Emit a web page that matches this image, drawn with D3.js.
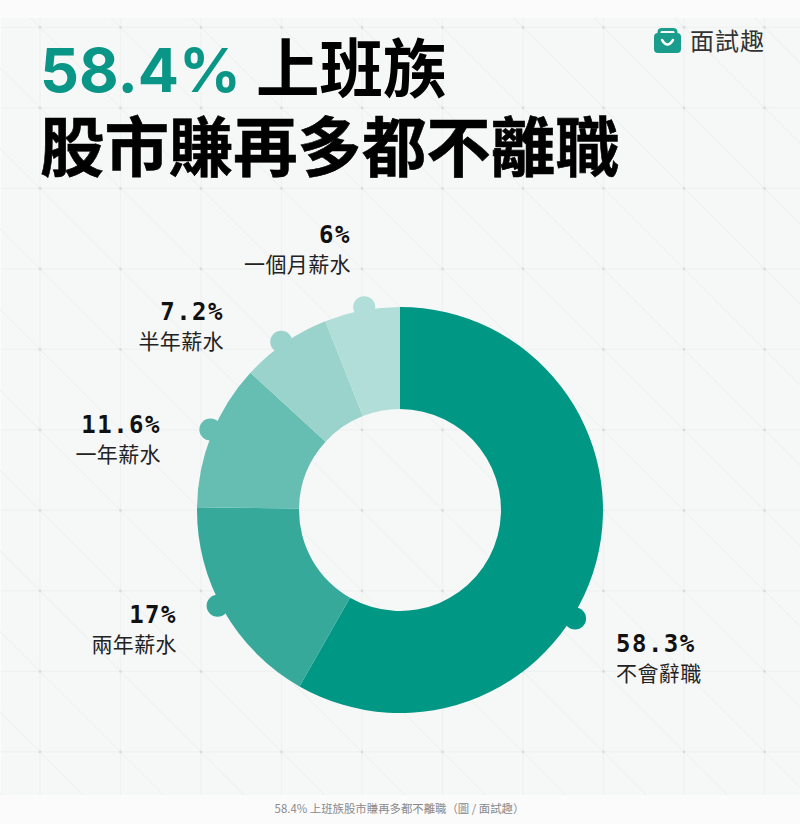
<!DOCTYPE html>
<html><head><meta charset="utf-8">
<script src="https://cdn.jsdelivr.net/npm/d3@7"></script>
<style>html,body{margin:0;padding:0;background:#fbfbfc}svg{display:block}
text{font-family:"Noto Sans CJK TC","Noto Sans",sans-serif}</style></head>
<body><div id="chart"></div>
<script>
const categories=["不會辭職","兩年薪水","一年薪水","半年薪水","一個月薪水"];
const values=[58.3,17,11.6,7.2,6];
const valueLabels=["58.3%","17%","11.6%","7.2%","6%"];
const colors=["#009785","#36a99b","#66bdb2","#99d3cc","#b2ded9"];
const dotAngles=[121.8,242.3,293,324.8,350];
const labelPos=[[616,652,"start"],[177,623,"end"],[161,433,"end"],[224,320,"end"],[351,243,"end"]];

const W=800,H=824,cx=400,cy=510,R=203,r=101,step=80.5;
const svg=d3.select("#chart").append("svg").attr("width",W).attr("height",H);
svg.append("rect").attr("width",W).attr("height",H).attr("fill","#fbfbfc");
svg.append("rect").attr("x",1).attr("y",18).attr("width",W).attr("height",777).attr("fill","#f6f7f7");

const grid=svg.append("g");
const xs=d3.range(0,10).map(i=>40+i*step), ys=d3.range(0,10).map(i=>27.4+i*step);
grid.selectAll(".v").data(xs).join("line").attr("x1",d=>d).attr("x2",d=>d).attr("y1",18).attr("y2",795).attr("stroke","#f0f1f1").attr("stroke-width",1.3);
grid.selectAll(".h").data(ys).join("line").attr("y1",d=>d).attr("y2",d=>d).attr("x1",1).attr("x2",W).attr("stroke","#f0f1f1").attr("stroke-width",1.3);
grid.selectAll(".d").data(d3.range(-10,11)).join("line")
 .attr("x1",d=>40+d*step-9.4).attr("y1",18).attr("x2",d=>40+d*step+767.6).attr("y2",795).attr("stroke","#f0f1f1").attr("stroke-width",1.1);
xs.forEach(x=>ys.forEach(y=>grid.append("circle").attr("cx",x).attr("cy",y).attr("r",1.3).attr("fill","#d8dbdb")));

const pie=d3.pie().sort(null).value(d=>d)(values);
const arc=d3.arc().innerRadius(r).outerRadius(R);
const g=svg.append("g").attr("transform",`translate(${cx},${cy})`);
g.selectAll("path").data(pie).join("path").attr("d",arc).attr("fill",(d,i)=>colors[i]);
g.selectAll(".dot").data(dotAngles).join("circle").attr("r",11)
 .attr("cx",a=>206*Math.sin(a*Math.PI/180)).attr("cy",a=>-206*Math.cos(a*Math.PI/180)).attr("fill",(d,i)=>colors[i]);

const lab=svg.append("g");
categories.forEach((c,i)=>{
 const [x,y,a]=labelPos[i];
 lab.append("text").attr("x",x).attr("y",y).attr("text-anchor",a).attr("font-size",24).attr("font-weight",700).attr("fill","#111")
   .style("font-family",'"DejaVu Sans Mono"').style("letter-spacing","1.5px").text(valueLabels[i]);
 lab.append("text").attr("x",x).attr("y",y+29).attr("text-anchor",a).attr("font-size",21).attr("fill","#222").style("letter-spacing","0.4px").text(c);
});

const t1=svg.append("text").attr("x",40).attr("y",92).attr("font-size",63.5).attr("font-weight",700).attr("fill","#000");
t1.append("tspan").attr("fill","#0a9686").style("font-family","Inter").attr("font-size",61).text("58.4%");
t1.append("tspan").attr("dx",15).text("上班族");
svg.append("text").attr("x",40).attr("y",171).attr("font-size",64.4).attr("font-weight",700).attr("fill","#000").attr("stroke","#000").attr("stroke-width",0.6).text("股市賺再多都不離職");

const logo=svg.append("g").attr("transform","translate(654,28)");
logo.append("rect").attr("x",0).attr("y",5).attr("width",27).attr("height",20).attr("rx",4).attr("fill","#1a9d8c");
logo.append("path").attr("d","M5 6 V4 Q5 1.5 8 1.5 H19 Q22 1.5 22 4 V6").attr("fill","none").attr("stroke","#1a9d8c").attr("stroke-width",3);
logo.append("path").attr("d","M8 12 Q13.5 21 19 12").attr("fill","none").attr("stroke","#fff").attr("stroke-width",2.5).attr("stroke-linecap","round");
svg.append("text").attr("x",690).attr("y",50).attr("font-size",24).attr("font-weight",400).attr("fill","#333").style("letter-spacing","1px").text("面試趣");

svg.append("text").attr("x",397.5).attr("y",813).attr("text-anchor","middle").attr("font-size",11.4).attr("fill","#8a8a8a").attr("dx",2).text("58.4% 上班族股市賺再多都不離職（圖 / 面試趣）");
</script></body></html>
